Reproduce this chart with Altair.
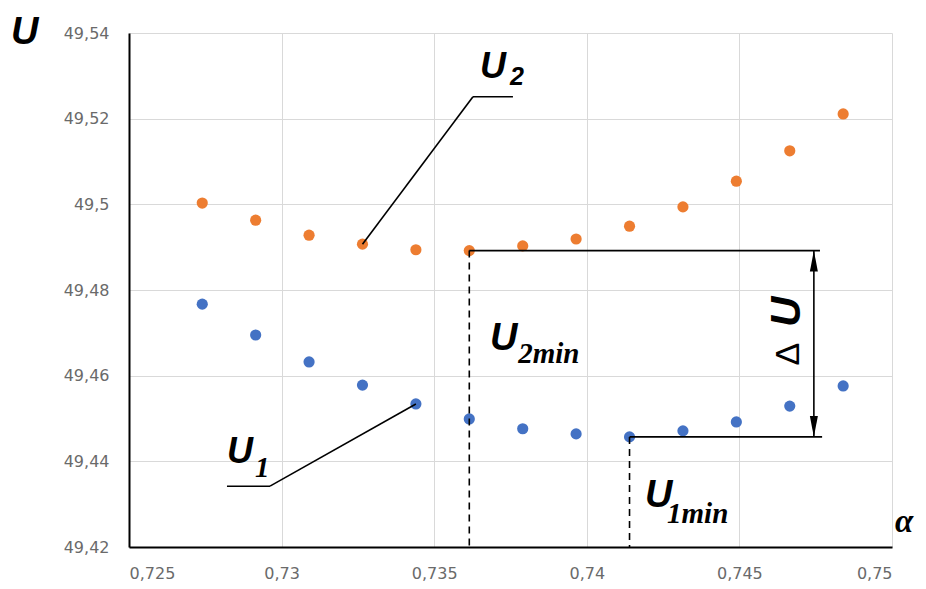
import altair as alt
import pandas as pd

# ---- data ----
alpha = [0.7274, 0.72915, 0.7309, 0.73265, 0.7344, 0.73615, 0.7379,
         0.73965, 0.7414, 0.74315, 0.7449, 0.74665, 0.7484]
u1 = [49.4767, 49.4695, 49.4632, 49.4578, 49.4534, 49.4499, 49.4476,
      49.4464, 49.4457, 49.4471, 49.4492, 49.4529, 49.4576]
u2 = [49.5003, 49.4963, 49.4928, 49.4907, 49.4894, 49.4892, 49.4903,
      49.4919, 49.4949, 49.4994, 49.5054, 49.5125, 49.5211]

x_ticks = [0.725, 0.73, 0.735, 0.74, 0.745, 0.75]
y_ticks = [49.42, 49.44, 49.46, 49.48, 49.5, 49.52, 49.54]
x_dom = [0.725, 0.75]
y_dom = [49.42, 49.54]

i2 = 5   # index of U2 minimum
i1 = 8   # index of U1 minimum

pts = pd.DataFrame({
    "alpha": alpha + alpha,
    "U": u1 + u2,
    "series": ["U1"] * len(alpha) + ["U2"] * len(alpha),
})

xs = alt.Scale(domain=x_dom, nice=False, zero=False)
ys = alt.Scale(domain=y_dom, nice=False, zero=False)

lab_font = "DejaVu Sans"
xaxis = alt.Axis(values=x_ticks, title=None, grid=True, gridColor="#d9d9d9",
                 domainColor="black", domainWidth=2, ticks=False, tickSize=0,
                 labelFont=lab_font, labelFontSize=16, labelColor="#6a6a6a",
                 labelPadding=18,
                 labelExpr="replace(format(datum.value, '.3~f'), '.', ',')")
yaxis = alt.Axis(values=y_ticks, title=None, grid=True, gridColor="#d9d9d9",
                 domainColor="black", domainWidth=2, ticks=False, tickSize=0,
                 labelFont=lab_font, labelFontSize=16, labelColor="#6a6a6a",
                 labelPadding=20,
                 labelExpr="replace(format(datum.value, '.2~f'), '.', ',')")

points = alt.Chart(pts).mark_circle(size=125, opacity=1).encode(
    x=alt.X("alpha:Q", scale=xs, axis=xaxis),
    y=alt.Y("U:Q", scale=ys, axis=yaxis),
    color=alt.Color("series:N", legend=None,
                    scale=alt.Scale(domain=["U1", "U2"],
                                    range=["#4472C4", "#ED7D31"])),
)

# ---- annotation geometry (data coordinates) ----
arrow_x = 0.74744
solid = pd.DataFrame({
    "x":  [alpha[3], 0.73627, alpha[4], 0.72962, alpha[i2], alpha[i1], arrow_x],
    "y":  [u2[3], 49.5251, u1[4], 49.4342, u2[i2], u1[i1], u2[i2]],
    "x2": [0.73627, 0.73758, 0.72962, 0.72821, 0.74764, 0.74771, arrow_x],
    "y2": [49.5251, 49.5251, 49.4342, 49.4342, u2[i2], u1[i1], u1[i1]],
})
dashed = pd.DataFrame({
    "x": [alpha[i2], alpha[i1]],
    "y": [u2[i2], u1[i1]],
    "x2": [alpha[i2], alpha[i1]],
    "y2": [y_dom[0], y_dom[0]],
})

solid_rules = alt.Chart(solid).mark_rule(color="black", strokeWidth=1.6).encode(
    x=alt.X("x:Q", scale=xs), y=alt.Y("y:Q", scale=ys),
    x2="x2:Q", y2="y2:Q")
dashed_rules = alt.Chart(dashed).mark_rule(color="black", strokeWidth=1.6,
                                           strokeDash=[7, 5]).encode(
    x=alt.X("x:Q", scale=xs), y=alt.Y("y:Q", scale=ys),
    x2="x2:Q", y2="y2:Q")

head_up = alt.Chart(pd.DataFrame({"x": [arrow_x], "y": [u2[i2]]})).mark_point(
    shape="M0,0L-0.4,2.1L0.4,2.1Z", size=400, filled=True, color="black",
    opacity=1, strokeWidth=0).encode(
    x=alt.X("x:Q", scale=xs), y=alt.Y("y:Q", scale=ys))
head_down = alt.Chart(pd.DataFrame({"x": [arrow_x], "y": [u1[i1]]})).mark_point(
    shape="M0,0L-0.4,-2.1L0.4,-2.1Z", size=400, filled=True, color="black",
    opacity=1, strokeWidth=0).encode(
    x=alt.X("x:Q", scale=xs), y=alt.Y("y:Q", scale=ys))

# big letters U (bold italic sans)
bigU = pd.DataFrame({
    "x": [0.72113, 0.73650, 0.72821, 0.73683, 0.74191],
    "y": [49.5375, 49.5295, 49.4396, 49.4660, 49.4293],
    "t": ["U", "U", "U", "U", "U"],
    "s": [38, 36, 36, 38, 38],
})
bigU_txt = alt.Chart(bigU).mark_text(
    font="Liberation Sans", fontWeight="bold", fontStyle="italic",
    align="left", baseline="alphabetic", color="black").encode(
    x=alt.X("x:Q", scale=xs), y=alt.Y("y:Q", scale=ys), text="t:N",
    size=alt.Size("s:Q", scale=None, legend=None))

# subscripts
sub_sans = alt.Chart(pd.DataFrame({"x": [0.73748], "y": [49.5279], "t": ["2"]})).mark_text(
    font="Liberation Sans", fontWeight="bold", fontStyle="italic", fontSize=25,
    align="left", baseline="alphabetic", color="black").encode(
    x=alt.X("x:Q", scale=xs), y=alt.Y("y:Q", scale=ys), text="t:N")

sub_serif = alt.Chart(pd.DataFrame({
    "x": [0.72913, 0.73775, 0.74263],
    "y": [49.4363, 49.4630, 49.4256],
    "t": ["1", "2min", "1min"]})).mark_text(
    font="Liberation Serif", fontWeight="bold", fontStyle="italic", fontSize=29,
    align="left", baseline="alphabetic", color="black").encode(
    x=alt.X("x:Q", scale=xs), y=alt.Y("y:Q", scale=ys), text="t:N")

alpha_txt = alt.Chart(pd.DataFrame({"x": [0.75010], "y": [49.4235], "t": ["α"]})).mark_text(
    font="Liberation Serif", fontStyle="italic", fontWeight="bold", fontSize=33,
    align="left", baseline="alphabetic", color="black").encode(
    x=alt.X("x:Q", scale=xs), y=alt.Y("y:Q", scale=ys), text="t:N")

dU_U = alt.Chart(pd.DataFrame({"x": [0.74656], "y": [49.4749], "t": ["U"]})).mark_text(
    font="Liberation Sans", fontWeight="bold", fontStyle="italic", fontSize=42,
    angle=270, align="center", baseline="middle", color="black").encode(
    x=alt.X("x:Q", scale=xs), y=alt.Y("y:Q", scale=ys), text="t:N")
dU_D = alt.Chart(pd.DataFrame({"x": [0.74662], "y": [49.4650], "t": ["Δ"]})).mark_text(
    font="Liberation Sans", fontSize=34,
    angle=270, align="center", baseline="middle", color="black").encode(
    x=alt.X("x:Q", scale=xs), y=alt.Y("y:Q", scale=ys), text="t:N")

chart = alt.layer(
    points, solid_rules, dashed_rules, head_up, head_down,
    bigU_txt, sub_sans, sub_serif, alpha_txt, dU_U, dU_D,
).properties(
    width=763, height=514,
    autosize=alt.AutoSizeParams(type="none"),
    padding={"left": 121, "top": 25, "right": 26, "bottom": 40},
).configure_view(stroke=None)

chart.save("out.html", embed_options={"renderer": "svg", "actions": False})
